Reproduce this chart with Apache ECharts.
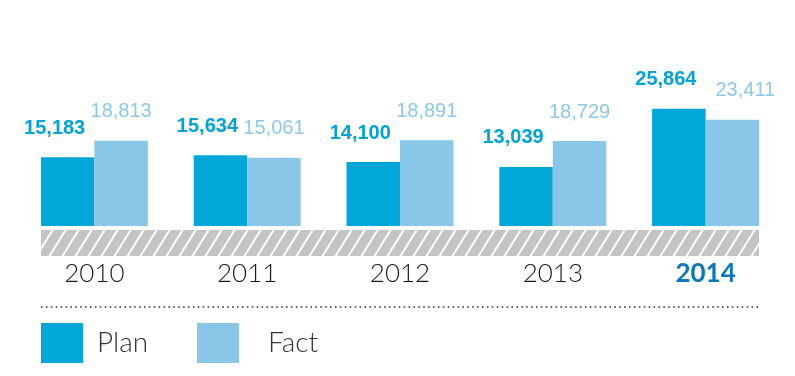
<!DOCTYPE html>
<html>
<head>
<meta charset="utf-8">
<script src="https://cdn.jsdelivr.net/npm/echarts@6/dist/echarts.min.js"></script>
<style>
  html, body { margin: 0; padding: 0; background: #fff; }
  #main { width: 795px; height: 376px; }
</style>
</head>
<body>
<div id="main"></div>
<script>
var years = ['2010', '2011', '2012', '2013', '2014'];
var planValues = [15183, 15634, 14100, 13039, 25864];
var factValues = [18813, 15061, 18891, 18729, 23411];

var planColor = '#00a7d8';
var factColor = '#89c7e8';
var LABEL_FONT = '"Liberation Sans", Arial, sans-serif';
var THIN_FONT = 'Lato, "Liberation Sans", sans-serif';

// hatched band under the bars
function hatchTile() {
    var w = 13, h = 21;
    var c = document.createElement('canvas');
    c.width = w;
    c.height = h;
    var ctx = c.getContext('2d');
    ctx.fillStyle = '#c4c4c4';
    ctx.fillRect(0, 0, w, h);
    ctx.strokeStyle = '#ffffff';
    ctx.lineWidth = 2;
    for (var k = -1; k <= 1; k++) {
        ctx.beginPath();
        ctx.moveTo(k * w, h);
        ctx.lineTo(k * w + w, 0);
        ctx.stroke();
    }
    return c;
}

function fmt(v) {
    return v.toLocaleString('en-US');
}

var chart = echarts.init(document.getElementById('main'));

var option = {
    backgroundColor: '#fff',
    animation: false,
    grid: {
        left: 18,
        right: 13,
        top: 90,
        bottom: 150
    },
    xAxis: {
        type: 'category',
        data: years.map(function (y, i) {
            var item = { value: y };
            if (i === years.length - 1) {
                item.textStyle = {
                    color: '#0a78c0',
                    fontWeight: 'bold',
                    fontFamily: THIN_FONT,
                    fontSize: 26,
                    verticalAlign: 'middle'
                };
            }
            return item;
        }),
        axisLine: { show: false },
        axisTick: { show: false },
        axisLabel: {
            margin: 48,
            verticalAlign: 'middle',
            fontFamily: THIN_FONT,
            fontWeight: 300,
            fontSize: 26,
            color: '#1a1a1a'
        }
    },
    yAxis: {
        type: 'value',
        min: 0,
        max: 30000,
        show: false,
        splitLine: { show: false }
    },
    legend: [{
        left: 41,
        top: 323,
        padding: 0,
        itemWidth: 42,
        itemHeight: 40,
        icon: 'rect',
        selectedMode: false,
        textStyle: { fontFamily: THIN_FONT, fontWeight: 300, fontSize: 28, color: '#333', padding: [0, 0, 0, 9] },
        data: ['Plan']
    }, {
        left: 197,
        top: 323,
        padding: 0,
        itemWidth: 42,
        itemHeight: 40,
        icon: 'rect',
        selectedMode: false,
        textStyle: { fontFamily: THIN_FONT, fontWeight: 300, fontSize: 28, color: '#333', padding: [0, 0, 0, 24] },
        data: ['Fact']
    }],
    series: [{
        name: 'Plan',
        type: 'bar',
        barGap: '0%',
        barCategoryGap: '30%',
        itemStyle: { color: planColor },
        label: {
            show: true,
            position: 'top',
            distance: 19,
            offset: [-13, 0],
            fontFamily: LABEL_FONT,
            fontSize: 20,
            fontWeight: 'bold',
            color: '#00a3d6',
            formatter: function (p) { return fmt(p.value); }
        },
        data: planValues
    }, {
        name: 'Fact',
        type: 'bar',
        itemStyle: { color: factColor },
        label: {
            show: true,
            position: 'top',
            distance: 19,
            fontFamily: LABEL_FONT,
            fontSize: 20,
            color: '#8dc8e8',
            formatter: function (p) { return fmt(p.value); }
        },
        data: factValues.map(function (v, i) {
            if (i === factValues.length - 1) {
                return { value: v, label: { offset: [13, 0] } };
            }
            return v;
        })
    }],
    graphic: [{
        type: 'rect',
        silent: true,
        shape: { x: 41, y: 230, width: 718, height: 26 },
        style: { fill: { image: hatchTile(), repeat: 'repeat' } }
    }, {
        type: 'line',
        silent: true,
        shape: { x1: 41, y1: 307, x2: 760, y2: 307 },
        style: { stroke: '#333', lineWidth: 1.6, lineDash: [1.6, 3.3] }
    }]
};

chart.setOption(option);
</script>
</body>
</html>
